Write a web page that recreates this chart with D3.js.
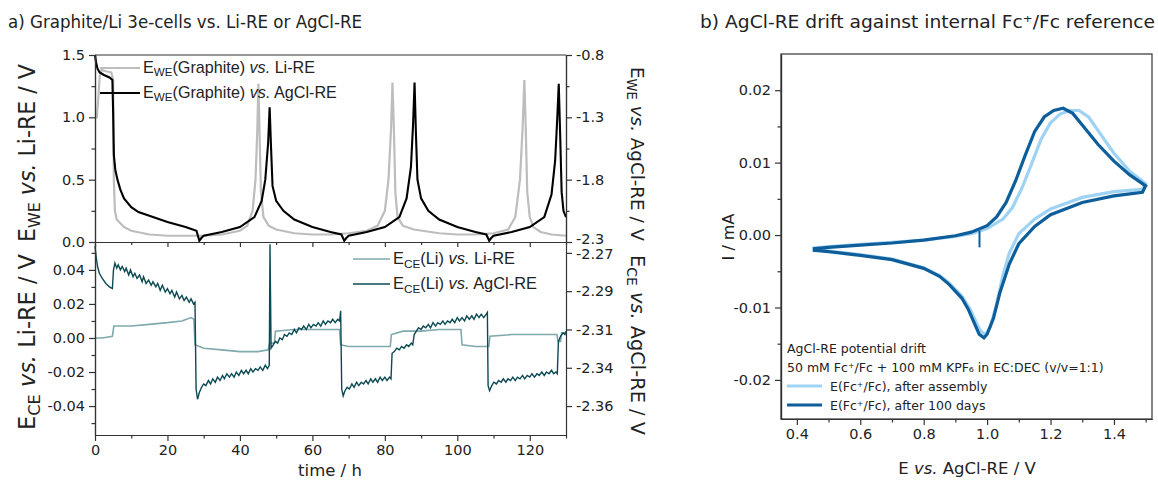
<!DOCTYPE html>
<html><head><meta charset="utf-8">
<script src="https://cdn.jsdelivr.net/npm/d3@7"></script>
<style>body{margin:0;background:#fff}svg{display:block}</style>
</head><body><svg id="c" width="1158" height="481"></svg>
<script>
// ---------------- DATA ----------------
// Panel a, top: E_WE(Graphite) vs Li-RE (left axis, V)
const weVsLi = [[0,1.0],[0.5,1.0],[0.9,1.15],[1.3,1.33],[1.8,1.38],[3,1.37],[4.5,1.36],[5,1.3],[5.2,0.5],[5.5,0.25],[6,0.18],[8,0.12],[10,0.09],[15,0.06],[20,0.05],[25,0.05],[30,0.05],[35,0.06],[40,0.09],[42,0.13],[43.5,0.25],[44.3,0.5],[44.8,0.9],[45.1,1.27],[45.4,0.9],[45.8,0.4],[46.5,0.2],[48,0.13],[50,0.1],[55,0.07],[60,0.06],[65,0.06],[70,0.07],[75,0.09],[78,0.13],[80,0.25],[81,0.5],[81.7,0.9],[82.1,1.28],[82.5,0.9],[82.9,0.4],[83.5,0.2],[85,0.13],[88,0.1],[95,0.07],[100,0.06],[105,0.06],[110,0.07],[114,0.1],[116,0.2],[117.3,0.5],[118,0.9],[118.5,1.3],[118.9,0.9],[119.3,0.4],[120,0.2],[121,0.12],[123,0.08],[126,0.06],[130,0.05]];
// Panel a, top: E_WE(Graphite) vs AgCl-RE (right axis, V)
const weVsAgCl = [[0,-0.80],[0.3,-0.86],[0.7,-0.91],[1.3,-0.94],[2.5,-0.96],[4,-0.98],[4.8,-1.0],[5.0,-1.25],[5.2,-1.6],[5.6,-1.72],[6.2,-1.8],[7,-1.88],[8,-1.95],[10,-2.02],[12,-2.06],[15,-2.09],[20,-2.14],[25,-2.18],[28,-2.21],[28.8,-2.29],[29.3,-2.27],[30,-2.25],[35,-2.22],[40,-2.18],[44,-2.1],[46,-1.97],[47,-1.8],[47.8,-1.5],[48.2,-1.22],[48.6,-1.55],[49,-1.85],[50,-1.97],[52,-2.05],[55,-2.12],[60,-2.18],[65,-2.22],[68,-2.24],[68.8,-2.29],[69.3,-2.27],[70,-2.25],[75,-2.22],[80,-2.18],[84,-2.1],[86,-1.95],[87.2,-1.7],[87.8,-1.35],[88.2,-1.02],[88.6,-1.45],[89,-1.8],[90,-1.95],[92,-2.05],[95,-2.12],[100,-2.18],[105,-2.22],[108,-2.24],[108.8,-2.29],[109.3,-2.27],[110,-2.25],[115,-2.22],[120,-2.18],[124,-2.1],[126,-1.92],[127,-1.65],[127.6,-1.3],[128,-1.03],[128.4,-1.45],[128.8,-1.9],[129.3,-2.05],[130,-2.1]];
// Panel a, bottom: E_CE(Li) vs Li-RE (left axis, V)
const ceVsLi = [[0,0.0],[2,0.0],[4.8,0.001],[5.2,0.007],[10,0.007],[15,0.008],[20,0.009],[24,0.010],[26.5,0.012],[27.3,0.011],[27.6,-0.004],[30,-0.006],[35,-0.007],[40,-0.008],[45,-0.008],[47.8,-0.007],[48.2,-0.003],[49.5,-0.003],[49.8,0.004],[55,0.005],[60,0.005],[67.5,0.005],[67.8,-0.004],[70,-0.005],[75,-0.005],[81.5,-0.005],[81.8,0.002],[85,0.004],[90,0.004],[95,0.005],[101,0.005],[101.3,-0.004],[105,-0.005],[108.7,-0.005],[109,0.001],[115,0.002],[120,0.002],[127.5,0.002],[127.8,-0.002],[128.5,-0.002],[128.8,0.003],[130,0.003]];
// Panel a, bottom: E_CE(Li) vs AgCl-RE (right axis, V)
const ceVsAgCl = [[0,-2.266],[0.3,-2.272],[0.7,-2.278],[1.2,-2.282],[2,-2.285],[3,-2.288],[4,-2.290],[4.8,-2.291],
[5.1,-2.280],[5.5,-2.276],[6,-2.279],[6.4,-2.277],[7,-2.280],[7.5,-2.278],[8.2,-2.281],[8.6,-2.279],[9.3,-2.283],[9.8,-2.280],[10.5,-2.284],[11,-2.282],[11.6,-2.285],[12.3,-2.283],[13,-2.287],[13.4,-2.284],[14.1,-2.288],[14.8,-2.286],[15.5,-2.289],[16,-2.287],[16.8,-2.290],[17.3,-2.288],[18,-2.292],[18.6,-2.289],[19.4,-2.293],[20,-2.291],[20.7,-2.294],[21.2,-2.292],[22,-2.296],[22.5,-2.293],[23.3,-2.297],[24,-2.295],[24.6,-2.298],[25.2,-2.296],[26,-2.299],[26.5,-2.297],[27.2,-2.300],[27.6,-2.299],
[27.9,-2.350],[28.3,-2.356],[28.8,-2.352],[29.4,-2.349],[30,-2.347],[30.6,-2.348],[31.3,-2.345],[31.9,-2.347],[32.5,-2.344],[33.2,-2.346],[33.8,-2.343],[34.5,-2.345],[35.2,-2.342],[35.7,-2.344],[36.4,-2.341],[37.1,-2.343],[37.7,-2.341],[38.4,-2.343],[39,-2.340],[39.7,-2.342],[40.4,-2.339],[41,-2.341],[41.7,-2.339],[42.3,-2.341],[43,-2.338],[43.6,-2.340],[44.3,-2.338],[45,-2.339],[45.6,-2.337],[46.3,-2.339],[47,-2.336],[47.6,-2.338],[48.1,-2.336],
[48.3,-2.265],[48.6,-2.326],[49.2,-2.324],[49.8,-2.322],[50.4,-2.323],[51,-2.320],[51.7,-2.321],[52.3,-2.318],[53,-2.319],[53.6,-2.317],[54.3,-2.318],[55,-2.315],[55.6,-2.317],[56.3,-2.314],[57,-2.315],[57.6,-2.313],[58.3,-2.315],[59,-2.312],[59.6,-2.314],[60.3,-2.312],[61,-2.313],[61.6,-2.311],[62.3,-2.313],[63,-2.310],[63.6,-2.312],[64.3,-2.310],[65,-2.311],[65.6,-2.309],[66.3,-2.311],[67,-2.309],[67.5,-2.310],[67.8,-2.304],
[68.1,-2.350],[68.5,-2.354],[69,-2.351],[69.6,-2.349],[70.2,-2.350],[70.9,-2.347],[71.5,-2.349],[72.2,-2.346],[72.8,-2.348],[73.5,-2.346],[74.1,-2.347],[74.8,-2.345],[75.4,-2.347],[76.1,-2.344],[76.7,-2.346],[77.4,-2.344],[78,-2.346],[78.7,-2.343],[79.3,-2.345],[80,-2.343],[80.6,-2.345],[81.3,-2.343],[81.7,-2.344],
[82,-2.329],[82.6,-2.328],[83.3,-2.326],[84,-2.327],[84.6,-2.325],[85.3,-2.326],[86,-2.324],[86.6,-2.325],[87.3,-2.323],[87.7,-2.324],
[88.1,-2.318],[88.7,-2.316],[89.3,-2.314],[90,-2.315],[90.6,-2.313],[91.3,-2.314],[92,-2.312],[92.6,-2.314],[93.3,-2.311],[94,-2.313],[94.6,-2.311],[95.3,-2.312],[96,-2.310],[96.6,-2.312],[97.3,-2.310],[98,-2.311],[98.6,-2.309],[99.3,-2.311],[100,-2.308],[100.6,-2.310],[101.3,-2.308],[102,-2.310],[102.6,-2.307],[103.3,-2.309],[104,-2.307],[104.6,-2.309],[105.3,-2.306],[106,-2.308],[106.6,-2.306],[107.3,-2.308],[108,-2.306],[108.3,-2.305],
[108.5,-2.348],[108.9,-2.351],[109.5,-2.348],[110.1,-2.346],[110.8,-2.347],[111.4,-2.345],[112.1,-2.346],[112.7,-2.344],[113.4,-2.346],[114,-2.344],[114.7,-2.345],[115.3,-2.343],[116,-2.345],[116.6,-2.343],[117.3,-2.344],[118,-2.342],[118.6,-2.344],[119.3,-2.342],[120,-2.343],[120.6,-2.341],[121.3,-2.343],[122,-2.341],[122.6,-2.342],[123.3,-2.340],[124,-2.342],[124.6,-2.340],[125.3,-2.341],[126,-2.339],[126.6,-2.341],[127.2,-2.340],[127.6,-2.341],
[127.9,-2.322],[128.5,-2.319],[129.2,-2.317],[129.7,-2.318],[130,-2.316]];
// Panel b: cyclic voltammograms [E vs AgCl-RE (V), I (mA)]
const cvAssembly = [[0.45,-0.0018],[0.5,-0.0016],[0.6,-0.0013],[0.7,-0.001],[0.8,-0.0007],[0.9,-0.0002],[0.95,0.0002],[1.0,0.0009],[1.05,0.0022],[1.08,0.0038],[1.11,0.0065],[1.14,0.0098],[1.17,0.0132],[1.2,0.0155],[1.23,0.0167],[1.26,0.0172],[1.29,0.0172],[1.32,0.0163],[1.36,0.0138],[1.4,0.0113],[1.45,0.0088],[1.5,0.0071],[1.49,0.0063],[1.4,0.006],[1.3,0.0052],[1.2,0.0036],[1.15,0.0022],[1.1,0.0002],[1.07,-0.0025],[1.05,-0.0055],[1.03,-0.0095],[1.01,-0.0127],[0.995,-0.0137],[0.98,-0.0133],[0.965,-0.012],[0.945,-0.0101],[0.92,-0.0084],[0.88,-0.0066],[0.85,-0.0056],[0.8,-0.0045],[0.7,-0.0033],[0.6,-0.0027],[0.5,-0.0022],[0.45,-0.002]];
const cv100days = [[0.45,-0.0019],[0.5,-0.0017],[0.6,-0.0014],[0.7,-0.0011],[0.8,-0.0007],[0.9,-0.0001],[0.95,0.0004],[1.0,0.0013],[1.03,0.0025],[1.06,0.0045],[1.09,0.0075],[1.12,0.011],[1.15,0.0143],[1.18,0.0163],[1.21,0.0172],[1.24,0.0175],[1.27,0.0168],[1.3,0.0152],[1.35,0.0125],[1.4,0.0102],[1.45,0.0083],[1.5,0.0068],[1.49,0.0059],[1.4,0.0054],[1.3,0.0045],[1.2,0.0028],[1.15,0.0012],[1.1,-0.0012],[1.07,-0.004],[1.04,-0.008],[1.02,-0.0115],[1.0,-0.0137],[0.99,-0.0142],[0.975,-0.0137],[0.96,-0.0122],[0.94,-0.0102],[0.92,-0.0087],[0.88,-0.0068],[0.85,-0.0057],[0.8,-0.0046],[0.7,-0.0034],[0.6,-0.0028],[0.5,-0.0023],[0.45,-0.0021]];
const cv100daysStart = [[0.976,0.0006],[0.976,-0.0017]];
// Tick values
const timeTicks = [0,20,40,60,80,100,120];
const timeMinor = [10,30,50,70,90,110,130];
const topLeftTicks = [0,0.5,1.0,1.5];
const topLeftMinor = [0.25,0.75,1.25];
const topRightTicks = [-2.3,-1.8,-1.3,-0.8];
const topRightMinor = [-2.05,-1.55,-1.05];
const botLeftTicks = [-0.04,-0.02,0,0.02,0.04];
const botLeftMinor = [-0.05,-0.03,-0.01,0.01,0.03,0.05];
const botRightTicks = [-2.36,-2.3375,-2.315,-2.2925,-2.27];
const cvXTicks = [0.4,0.6,0.8,1.0,1.2,1.4];
const cvXMinor = [0.5,0.7,0.9,1.1,1.3,1.5];
const cvYTicks = [-0.02,-0.01,0,0.01,0.02];
const cvYMinor = [-0.015,-0.005,0.005,0.015];

// ---------------- DRAW ----------------
const FV = '"DejaVu Sans", Verdana, sans-serif';
const FA = '"Liberation Sans", Arial, sans-serif';
const svg = d3.select("#c");

function rich(parent, parts, attrs, font, size) {
  const t = parent.append("text").attr("font-family", font).attr("font-size", size).attr("fill", "#222");
  for (const k in attrs) t.attr(k, attrs[k]);
  let sub = false;
  parts.forEach(p => {
    const s = t.append("tspan").text(p.t);
    if (p.sub) { s.attr("font-size", "0.72em").attr("dy", "0.3em"); sub = true; }
    else if (sub) { s.attr("dy", "-0.216em"); sub = false; }
    if (p.it) s.attr("font-style", "italic");
  });
  return t;
}
function fit(t, w) {
  const L = t.node().getComputedTextLength();
  const fs = parseFloat(t.attr("font-size"));
  if (L > 0) t.attr("font-size", fs * w / L);
  return t;
}
function styleAxis(g) {
  g.selectAll(".domain").attr("stroke", "#333").attr("stroke-width", 1.2);
  g.selectAll(".tick line").attr("stroke", "#333").attr("stroke-width", 1.2);
  g.selectAll(".tick text").attr("font-family", FV).attr("font-size", 14.5).attr("fill", "#222");
}
function axis(make, tr, major, minor, fmt, majLen, minLen, labels) {
  const f = d3.format(fmt);
  const g1 = svg.append("g").attr("transform", tr)
    .call(make().tickValues(major).tickSizeInner(majLen).tickSizeOuter(0).tickPadding(4)
      .tickFormat(labels ? (d => f(d).replace("\u2212", "-")) : () => ""));
  styleAxis(g1);
  if (minor) {
    const g2 = svg.append("g").attr("transform", tr)
      .call(make().tickValues(minor).tickSizeInner(minLen).tickSizeOuter(0).tickFormat(() => ""));
    styleAxis(g2);
  }
  return g1;
}

// ----- Panel a -----
const x = d3.scaleLinear([0,130],[95,566]);
const yTL = d3.scaleLinear([0,1.5],[242,55]);
const yTR = d3.scaleLinear([-2.3,-0.8],[242,55]);
const yBL = d3.scaleLinear([-0.057,0.0558],[435,243]);
const yBR = d3.scaleLinear([-2.377,-2.2642],[435,243]);

svg.append("line").attr("x1",95).attr("x2",566).attr("y1",55).attr("y2",55).attr("stroke","#333").attr("stroke-width",1.2);

const lineTL = d3.line().x(d=>x(d[0])).y(d=>yTL(d[1]));
const lineTR = d3.line().x(d=>x(d[0])).y(d=>yTR(d[1]));
const lineBL = d3.line().x(d=>x(d[0])).y(d=>yBL(d[1]));
const lineBR = d3.line().x(d=>x(d[0])).y(d=>yBR(d[1]));
svg.append("path").attr("d", lineTL(weVsLi)).attr("fill","none").attr("stroke","#bdbdbd").attr("stroke-width",2.2);
svg.append("path").attr("d", lineTR(weVsAgCl)).attr("fill","none").attr("stroke","#000").attr("stroke-width",2.1);
svg.append("path").attr("d", lineBL(ceVsLi)).attr("fill","none").attr("stroke","#7fa9ad").attr("stroke-width",1.6);
svg.append("path").attr("d", lineBR(ceVsAgCl)).attr("fill","none").attr("stroke","#0b4a52").attr("stroke-width",1.4);

axis(() => d3.axisLeft(yTL), "translate(95,0)", topLeftTicks, topLeftMinor, ".1f", 6, 3.5, true);
const gTR = axis(() => d3.axisRight(yTR), "translate(566,0)", topRightTicks, topRightMinor, ".1f", 6, 3.5, true);
gTR.selectAll(".tick text").filter(d => d === -2.3).attr("dy", "0.1em");
axis(() => d3.axisBottom(x), "translate(0,242)", timeTicks, timeMinor, "d", 5, 3, false);
axis(() => d3.axisLeft(yBL), "translate(95,0)", botLeftTicks, botLeftMinor, ".2f", 6, 3.5, true);
const gBR = axis(() => d3.axisRight(yBR), "translate(566,0)", botRightTicks, null, ".2f", 6, 3.5, true);
gBR.selectAll(".tick text").filter(d => d === -2.27).attr("dy", "0.42em");
axis(() => d3.axisBottom(x), "translate(0,435)", timeTicks, timeMinor, "d", 6, 3.5, true);

svg.append("text").attr("x",8).attr("y",28).attr("font-family",FV).attr("font-size",17).attr("fill","#222")
  .attr("textLength",354).attr("lengthAdjust","spacingAndGlyphs")
  .text("a) Graphite/Li 3e-cells vs. Li-RE or AgCl-RE");
rich(svg, [{t:"time / h"}], {x:330, y:476, "text-anchor":"middle"}, FV, 16.5);

fit(rich(svg, [{t:"E"},{t:"WE",sub:true},{t:" "},{t:"vs.",it:true},{t:" Li-RE / V"}], {"text-anchor":"middle", transform:"translate(35,153) rotate(-90)"}, FV, 17), 178);
fit(rich(svg, [{t:"E"},{t:"CE",sub:true},{t:" "},{t:"vs.",it:true},{t:" Li-RE / V"}], {"text-anchor":"middle", transform:"translate(35,342) rotate(-90)"}, FV, 17), 176);
fit(rich(svg, [{t:"E"},{t:"WE",sub:true},{t:" "},{t:"vs.",it:true},{t:" AgCl-RE / V"}], {"text-anchor":"middle", transform:"translate(631,154) rotate(90)"}, FV, 17), 174);
fit(rich(svg, [{t:"E"},{t:"CE",sub:true},{t:" "},{t:"vs.",it:true},{t:" AgCl-RE / V"}], {"text-anchor":"middle", transform:"translate(631,345) rotate(90)"}, FV, 17), 180);

function legLine(x1,x2,y,col,w){ svg.append("line").attr("x1",x1).attr("x2",x2).attr("y1",y).attr("y2",y).attr("stroke",col).attr("stroke-width",w); }
legLine(100,140,68,"#bdbdbd",2.2);
fit(rich(svg, [{t:"E"},{t:"WE",sub:true},{t:"(Graphite) "},{t:"vs.",it:true},{t:" Li-RE"}], {x:143,y:73}, FA, 16), 172);
legLine(100,140,93,"#000",2.1);
fit(rich(svg, [{t:"E"},{t:"WE",sub:true},{t:"(Graphite) "},{t:"vs.",it:true},{t:" AgCl-RE"}], {x:143,y:98}, FA, 16), 194);
legLine(353,390,259,"#7fa9ad",1.6);
fit(rich(svg, [{t:"E"},{t:"CE",sub:true},{t:"(Li) "},{t:"vs.",it:true},{t:" Li-RE"}], {x:393,y:264}, FA, 16), 122);
legLine(353,390,284,"#0b4a52",1.6);
fit(rich(svg, [{t:"E"},{t:"CE",sub:true},{t:"(Li) "},{t:"vs.",it:true},{t:" AgCl-RE"}], {x:393,y:289}, FA, 16), 144);

// ----- Panel b -----
const xc = d3.scaleLinear([0.35,1.52],[781,1152]);
const yc = d3.scaleLinear([-0.0254,0.025],[419,54]);
svg.append("rect").attr("x",781).attr("y",54).attr("width",1152-781).attr("height",419-54).attr("fill","none").attr("stroke","#333").attr("stroke-width",1.2);
const lineC = d3.line().x(d=>xc(d[0])).y(d=>yc(d[1]));
svg.append("path").attr("d", lineC(cvAssembly)).attr("fill","none").attr("stroke","#9fd3f4").attr("stroke-width",3.2);
svg.append("path").attr("d", lineC(cv100days)).attr("fill","none").attr("stroke","#0d5e9a").attr("stroke-width",3.2);
svg.append("path").attr("d", lineC(cv100daysStart)).attr("fill","none").attr("stroke","#0d5e9a").attr("stroke-width",2);

axis(() => d3.axisLeft(yc), "translate(781,0)", cvYTicks, cvYMinor, ".2f", 6, 3.5, true);
axis(() => d3.axisBottom(xc), "translate(0,419)", cvXTicks, cvXMinor, ".1f", 6, 3.5, true);

svg.append("text").attr("x",700).attr("y",28).attr("font-family",FV).attr("font-size",17).attr("fill","#222")
  .attr("textLength",455).attr("lengthAdjust","spacingAndGlyphs")
  .text("b) AgCl-RE drift against internal Fc\u207A/Fc reference");
rich(svg, [{t:"I / mA"}], {"text-anchor":"middle", transform:"translate(734,237) rotate(-90)"}, FV, 16);
rich(svg, [{t:"E "},{t:"vs.",it:true},{t:" AgCl-RE / V"}], {x:967, y:474, "text-anchor":"middle"}, FV, 16.5);

svg.append("text").attr("x",787).attr("y",353).attr("font-family",FV).attr("font-size",12.5).attr("fill","#222").text("AgCl-RE potential drift");
svg.append("text").attr("x",787).attr("y",372).attr("font-family",FV).attr("font-size",12.5).attr("fill","#222").text("50 mM Fc\u207A/Fc + 100 mM KPF\u2086 in EC:DEC (v/v=1:1)");
svg.append("line").attr("x1",787).attr("x2",822).attr("y1",386).attr("y2",386).attr("stroke","#9fd3f4").attr("stroke-width",3.2);
svg.append("text").attr("x",830).attr("y",391).attr("font-family",FV).attr("font-size",12.5).attr("fill","#222").text("E(Fc\u207A/Fc), after assembly");
svg.append("line").attr("x1",787).attr("x2",822).attr("y1",405).attr("y2",405).attr("stroke","#0d5e9a").attr("stroke-width",3.2);
svg.append("text").attr("x",830).attr("y",410).attr("font-family",FV).attr("font-size",12.5).attr("fill","#222").text("E(Fc\u207A/Fc), after 100 days");
</script></body></html>
